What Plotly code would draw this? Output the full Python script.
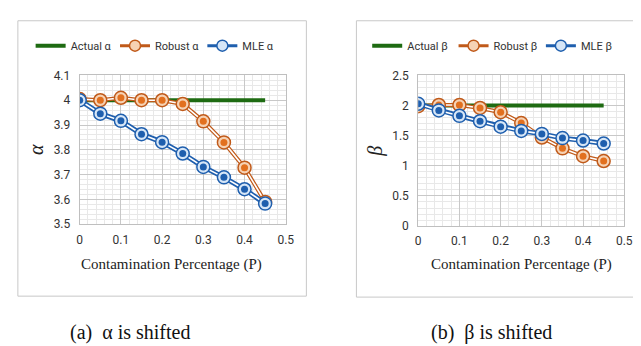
import plotly.graph_objects as go

p = [0, 0.05, 0.10, 0.15, 0.20, 0.25, 0.30, 0.35, 0.40, 0.45]

actual_alpha = [4, 4, 4, 4, 4, 4, 4, 4, 4, 4]
robust_alpha = [4.005, 4.0, 4.01, 4.0, 4.0, 3.985, 3.915, 3.83, 3.728, 3.59]
mle_alpha = [4.0, 3.946, 3.917, 3.863, 3.831, 3.785, 3.731, 3.689, 3.641, 3.583]

actual_beta = [2, 2, 2, 2, 2, 2, 2, 2, 2, 2]
robust_beta = [1.99, 2.01, 2.01, 1.96, 1.89, 1.71, 1.47, 1.29, 1.16, 1.08]
mle_beta = [2.03, 1.92, 1.83, 1.74, 1.65, 1.58, 1.53, 1.46, 1.42, 1.37]

labels_a = ["Actual α", "Robust α", "MLE α"]
labels_b = ["Actual β", "Robust β", "MLE β"]
captions = ["(a)  α is shifted", "(b)  β is shifted"]
x_title = "Contamination Percentage (P)"

GREEN = "#1e6b12"
BLUE = "#1f5fae"
BLUE_LIGHT = "#d6e6f7"
ORANGE = "#e2701f"
ORANGE_EDGE = "#c05a1a"
ORANGE_LIGHT = "#f6d2b4"

fig = go.Figure()

def add_panel(xa, ya, legs, actual, robust, mle, labels):
    fig.add_trace(go.Scatter(x=p, y=actual, mode="lines", name=labels[0],
                             line=dict(color=GREEN, width=4), xaxis=xa, yaxis=ya,
                             legend=legs[0]))
    for vals, col, edge, light, name, leg in [(robust, ORANGE, ORANGE_EDGE, ORANGE_LIGHT, labels[1], legs[1]),
                                              (mle, BLUE, BLUE, BLUE_LIGHT, labels[2], legs[2])]:
        w = 5 if col == BLUE else 4
        fig.add_trace(go.Scatter(x=p, y=vals, mode="lines", line=dict(color=edge, width=w),
                                 xaxis=xa, yaxis=ya, showlegend=False, hoverinfo="skip"))
        fig.add_trace(go.Scatter(x=p, y=vals, mode="lines", line=dict(color="white", width=1.6),
                                 xaxis=xa, yaxis=ya, showlegend=False, hoverinfo="skip"))
        fig.add_trace(go.Scatter(x=p, y=vals, mode="markers",
                                 marker=dict(size=13, color=light, line=dict(color=edge, width=1.5)),
                                 xaxis=xa, yaxis=ya, showlegend=False, hoverinfo="skip"))
        fig.add_trace(go.Scatter(x=p, y=vals, mode="markers",
                                 marker=dict(size=7, color=col, line=dict(width=0)),
                                 xaxis=xa, yaxis=ya, showlegend=False))
        fig.add_trace(go.Scatter(x=[None], y=[None], mode="lines+markers", name=name,
                                 line=dict(color=edge, width=3),
                                 marker=dict(size=11, color=light, line=dict(color=edge, width=1.5)),
                                 xaxis=xa, yaxis=ya, legend=leg))

add_panel("x", "y", ["legend", "legend2", "legend3"], actual_alpha, robust_alpha, mle_alpha, labels_a)
add_panel("x2", "y2", ["legend4", "legend5", "legend6"], actual_beta, robust_beta, mle_beta, labels_b)

tickfont = dict(family="Roboto, sans-serif", size=12, color="#333333")
titlefont = dict(family="Liberation Serif, serif", size=15, color="#222222")
ytitlefont = dict(family="Liberation Serif, serif", size=20, color="#222")

xcommon = dict(range=[0, 0.5], dtick=0.1, tick0=0, showgrid=True, gridcolor="#c8c8c8", gridwidth=1,
               minor=dict(dtick=0.02, showgrid=True, gridcolor="#e8e8e8", gridwidth=1),
               zeroline=False, showline=True, linecolor="#bfbfbf", mirror=True,
               ticks="outside", ticklen=4, tickcolor="rgba(0,0,0,0)", tickfont=tickfont)
ycommon = dict(showgrid=True, gridcolor="#c8c8c8", zeroline=False, showline=True,
               linecolor="#bfbfbf", mirror=True, ticks="outside", ticklen=6,
               tickcolor="rgba(0,0,0,0)", tickfont=tickfont)

legfont = dict(family="Roboto, sans-serif", size=11, color="#333")
legs = {}
legend_x = [20, 106, 195, 363, 451, 540]
for i, lx in enumerate(legend_x):
    key = "legend" if i == 0 else f"legend{i+1}"
    legs[key] = dict(orientation="h", x=lx/641, y=1-32/346, xanchor="left", yanchor="middle",
                     font=legfont, bgcolor="rgba(0,0,0,0)", itemwidth=30, borderwidth=0)

fig.update_layout(
    width=641, height=346,
    margin=dict(l=0, r=0, t=0, b=0),
    paper_bgcolor="white", plot_bgcolor="white",
    showlegend=True,
    xaxis=dict(domain=[0.1092, 0.4368], anchor="y", **xcommon),
    yaxis=dict(domain=[0.3699, 0.8179], anchor="x", range=[3.5, 4.1], dtick=0.1, tick0=3.5,
               minor=dict(dtick=0.02, showgrid=True, gridcolor="#e8e8e8"),
               title=dict(text="<i>α</i>", font=ytitlefont, standoff=4), **ycommon),
    xaxis2=dict(domain=[0.6474, 0.9750], anchor="y2", **xcommon),
    yaxis2=dict(domain=[0.3642, 0.8179], anchor="x2", range=[0, 2.5], dtick=0.5, tick0=0,
                minor=dict(dtick=0.1, showgrid=True, gridcolor="#e8e8e8"),
                title=dict(text="<i>β</i>", font=ytitlefont, standoff=4), **ycommon),
    **legs,
)

fig.add_shape(type="rect", xref="paper", yref="paper", x0=7/641, x1=301/641, y0=1-293/346, y1=1-6/346,
              line=dict(color="#c8c8c8", width=1))
fig.add_shape(type="rect", xref="paper", yref="paper", x0=352/641, x1=1.02, y0=1-294/346, y1=1-6/346,
              line=dict(color="#c8c8c8", width=1))

for cx in [164/641, 520/641]:
    fig.add_annotation(x=cx, y=1-260/346, xref="paper", yref="paper", text=x_title, showarrow=False,
                       font=titlefont, xanchor="center", yanchor="middle")

for cx, text in zip([121/641, 490/641], captions):
    fig.add_annotation(x=cx, y=1-331/346, xref="paper", yref="paper", text=text, showarrow=False,
                       font=dict(family="Liberation Serif, serif", size=20, color="#111"),
                       xanchor="center", yanchor="middle")

fig.write_html("out.html")
